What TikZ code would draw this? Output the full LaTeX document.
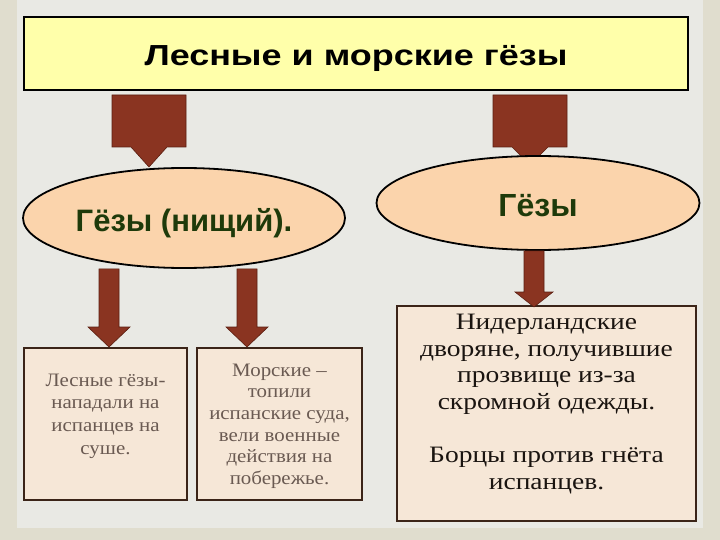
\documentclass[tikz,border=0pt]{standalone}
\usepackage{fontspec}
\setmainfont{Liberation Serif}
\newfontfamily\hsans{Liberation Sans}
\newfontfamily\widesans[FakeStretch=1.24]{Liberation Sans}
\newfontfamily\wideserif[FakeStretch=1.1]{Liberation Serif}
\newfontfamily\wideserifb[FakeStretch=1.17]{Liberation Serif}
\usetikzlibrary{shapes.geometric,calc}
\definecolor{bgout}{HTML}{E0DDCE}
\definecolor{bgin}{HTML}{E9E9E4}
\definecolor{titlefill}{HTML}{FFFFAA}
\definecolor{ellfill}{HTML}{FBD4AC}
\definecolor{elltext}{HTML}{1E3A0A}
\definecolor{arrowc}{HTML}{8A3421}
\definecolor{arrowedge}{HTML}{5A1E10}
\definecolor{boxfill}{HTML}{F6E7D7}
\definecolor{boxedge}{HTML}{3B2418}
\definecolor{greytext}{HTML}{6A5A52}
\definecolor{darktext}{HTML}{1A1410}
\newcommand\blockarr[5]{%
  \path[fill=arrowc,draw=arrowedge,line width=0.6pt] let \p1=(#1), \p2=(#2) in
  (\x2-#3,\y1) -- (\x2+#3,\y1) -- (\x2+#3,\y2+#5) -- (\x2+#4,\y2+#5) --
  (\x2,\y2) -- (\x2-#4,\y2+#5) -- (\x2-#3,\y2+#5) -- cycle;}
\tikzset{
  titlebox/.style={draw=black,line width=1.8pt,fill=titlefill,minimum width=664pt,minimum height=73pt,inner sep=0pt},
  ellnode/.style={ellipse,draw=black,line width=1.8pt,fill=ellfill,inner sep=0pt,text=elltext},
  infobox/.style={draw=boxedge,line width=2pt,fill=boxfill,inner sep=0pt},
  infotext/.style={align=center,inner sep=0pt}
}
\begin{document}
\begin{tikzpicture}[x=1pt,y=-1pt]
\useasboundingbox (0,0) rectangle (720,540);
\fill[bgout] (0,0) rectangle (720,540);
\fill[bgin] (17,0) rectangle (703,528);
% title
\node[titlebox,text height=25pt,text depth=0pt] (title) at (356,53.5)
  {\widesans\bfseries\fontsize{29}{34}\selectfont Лесные и морские гёзы};
% top arrows
\coordinate (t1) at (149,95);
\coordinate (t2) at (530,95);
\blockarr{t1}{149,167}{37pt}{18pt}{20pt}
\blockarr{t2}{530,165}{37pt}{18pt}{18pt}
% ellipses
\node[ellnode,minimum width=322pt,minimum height=100pt,text height=28pt,text depth=0pt] (ell1) at (184,218)
  {\hsans\bfseries\fontsize{31}{36}\selectfont Гёзы (нищий).};
\node[ellnode,minimum width=323pt,minimum height=94pt,text height=26pt,text depth=0pt] (ell2) at (538,203)
  {\hsans\bfseries\fontsize{32}{36}\selectfont Гёзы};
% boxes
\node[infobox,minimum width=163pt,minimum height=152pt] (b1) at (105.5,424) {};
\node[infobox,minimum width=165pt,minimum height=152pt] (b2) at (279.5,424) {};
\node[infobox,minimum width=299pt,minimum height=215pt] (b3) at (546.5,413.5) {};
\node[infotext,text=greytext,font=\wideserif\fontsize{19}{22.7}\selectfont] (tx1) at (105.5,416)
  {Лесные гёзы-\\нападали на\\испанцев на\\суше.};
\node[infotext,text=greytext,font=\wideserif\fontsize{19}{21.6}\selectfont] (tx2) at (279.5,426)
  {Морские –\\топили\\испанские суда,\\вели военные\\действия на\\побережье.};
\node[infotext,text=darktext,font=\wideserifb\fontsize{23.5}{26.6}\selectfont] (tx3) at (546.5,404)
  {Нидерландские\\дворяне, получившие\\прозвище из-за\\скромной одежды.\\[26.6pt]Борцы против гнёта\\испанцев.};
% lower arrows
\blockarr{ell1.south -| 110,0}{b1.north -| 109,0}{10pt}{21pt}{20pt}
\blockarr{ell1.south -| 248,0}{b2.north -| 247,0}{10pt}{21pt}{20pt}
\blockarr{ell2.south -| 534,0}{534,307}{10pt}{19pt}{15pt}
\end{tikzpicture}
\end{document}
